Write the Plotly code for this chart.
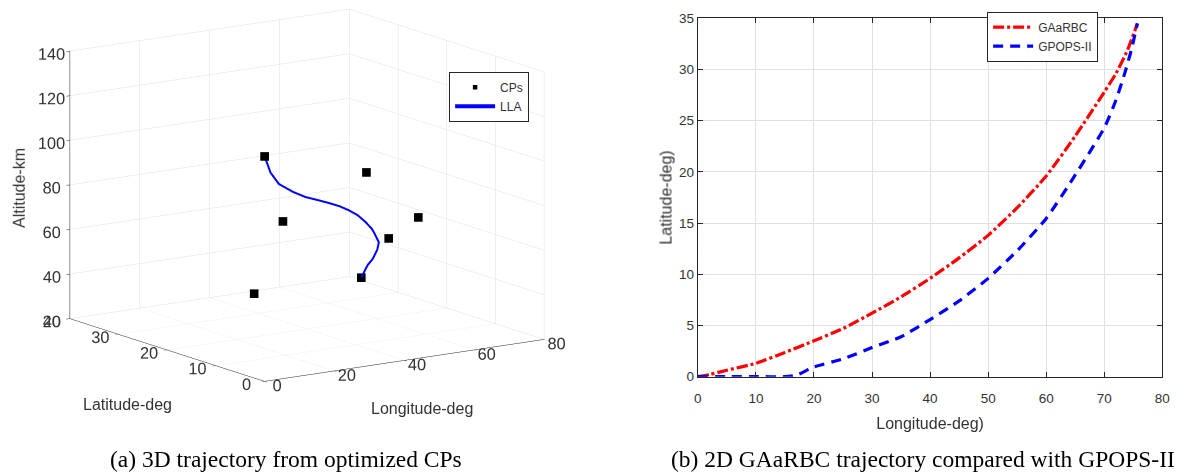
import plotly.graph_objects as go

# GAaRBC optimized trajectory (longitude / latitude, deg)
gaarbc_lon = [0, 2, 5, 10, 15, 20, 25, 30, 35, 40, 45, 50, 55, 60, 65, 70, 72, 74, 75.7]
gaarbc_lat = [0, 0.2, 0.63, 1.3, 2.37, 3.5, 4.7, 6.2, 7.8, 9.6, 11.6, 13.8, 16.5, 19.6, 23.5, 27.8, 29.6, 31.9, 34.5]
# altitude profile of the same trajectory (km)
lla_alt = [121, 113, 106.9, 101.7, 97.5, 94.2, 90.8, 87.2, 83, 78.4, 72.8, 66.8, 60.1, 54.5, 47.4, 39.9, 36.8, 32.5, 24.5]

# GPOPS-II reference trajectory
gpops_lon = [0, 5, 10, 15, 17, 20, 25, 30, 35, 40, 45, 50, 55, 60, 65, 70, 72, 73.5, 74.7, 75.7]
gpops_lat = [0, 0, 0, 0, 0.15, 0.95, 1.73, 2.84, 3.9, 5.58, 7.4, 9.6, 12.3, 15.45, 19.7, 24.3, 27.0, 29.6, 32.0, 34.5]

# optimized control points (lon, lat, alt)
cp_lon = [0, 15, 20, 45, 60, 55, 75.7]
cp_lat = [0, 7, 16.5, 11.4, 11.5, 14, 34.5]
cp_alt = [121, 83.4, 43.1, 95.2, 71.4, 61.4, 24.5]

FONT = "Liberation Sans"
TXT = "#333333"
GRID = "#e0e0e0"
AX = "#262626"

fig = go.Figure()

fig.add_trace(go.Scatter3d(
    x=cp_lon, y=cp_lat, z=cp_alt, mode="markers", name="CPs",
    marker=dict(symbol="square", size=4.5, color="black"),
    legend="legend", scene="scene"))
fig.add_trace(go.Scatter3d(
    x=gaarbc_lon, y=gaarbc_lat, z=lla_alt, mode="lines", name="LLA",
    line=dict(color="#0000ff", width=4),
    legend="legend", scene="scene"))

fig.add_trace(go.Scatter(
    x=gaarbc_lon, y=gaarbc_lat, mode="lines", name="GAaRBC",
    line=dict(color="#ff0000", width=3.2, dash="11px,3px,3px,3px", shape="spline", smoothing=0.5),
    legend="legend2", xaxis="x", yaxis="y"))
fig.add_trace(go.Scatter(
    x=gpops_lon, y=gpops_lat, mode="lines", name="GPOPS-II",
    line=dict(color="#0000ff", width=3.2, dash="10px,7px", shape="spline", smoothing=0.5),
    legend="legend2", xaxis="x", yaxis="y"))

ax3d = dict(showbackground=False, gridcolor=GRID, gridwidth=1, showline=True,
            linecolor=AX, linewidth=1, ticks="outside", tickcolor=AX, ticklen=4,
            zeroline=False, showspikes=False, title=dict(text=""), tickangle=0,
            tickfont=dict(family=FONT, size=14, color=TXT))

s = 1.472   # box scale in the orthographic view
dz = -0.186  # lowers the look-at point so the box sits higher in the panel
ex, ey, ez = -0.6826 * 1.9, -1.0 * 1.9, 0.273 * 1.9
fig.update_layout(
    width=1188, height=475, margin=dict(l=0, r=0, t=0, b=0),
    paper_bgcolor="white", plot_bgcolor="white", hovermode=False,
    scene=dict(
        domain=dict(x=[0, 0.515], y=[0.0, 1.0]),
        xaxis=dict(ax3d, range=[0, 80], dtick=20),
        yaxis=dict(ax3d, range=[0, 40], dtick=10),
        zaxis=dict(ax3d, range=[20, 140], dtick=20),
        aspectmode="manual", aspectratio=dict(x=1.0 * s, y=1.02 * s, z=0.81 * s),
        camera=dict(eye=dict(x=ex, y=ey, z=ez + dz),
                    center=dict(x=0, y=0, z=dz),
                    up=dict(x=0, y=0, z=1),
                    projection=dict(type="orthographic")),
    ),
    xaxis=dict(domain=[0.590, 0.985], range=[0, 80], dtick=10,
               showgrid=True, gridcolor=GRID, zeroline=False,
               showline=True, linecolor=AX, linewidth=1, mirror="allticks",
               ticks="inside", ticklen=5, tickcolor=AX, ticklabelstandoff=9,
               tickfont=dict(family=FONT, size=13.5, color=TXT),
               title=dict(text="Longitude-deg)", font=dict(family=FONT, size=16, color=TXT), standoff=12)),
    yaxis=dict(domain=[0.1964, 0.9754], range=[0, 35], dtick=5,
               showgrid=True, gridcolor=GRID, zeroline=False,
               showline=True, linecolor=AX, linewidth=1, mirror="allticks",
               ticks="inside", ticklen=5, tickcolor=AX, ticklabelstandoff=0,
               tickfont=dict(family=FONT, size=13.5, color=TXT),
               title=dict(text="Latitude-deg)", font=dict(family=FONT, size=16, color=TXT), standoff=2)),
    legend=dict(x=0.3785, y=0.859, xanchor="left", yanchor="top", itemwidth=40,
                bgcolor="white", bordercolor=AX, borderwidth=1,
                font=dict(family=FONT, size=12, color=TXT), tracegroupgap=0),
    legend2=dict(x=0.836, y=0.99, xanchor="left", yanchor="top", itemwidth=40,
                 bgcolor="white", bordercolor=AX, borderwidth=1,
                 font=dict(family=FONT, size=12, color=TXT), tracegroupgap=0),
    annotations=[
        # 3D axis titles
        dict(text="Latitude-deg", x=125 / 1188, y=1 - 410 / 475, xref="paper", yref="paper",
             showarrow=False, xanchor="center", yanchor="middle",
             font=dict(family=FONT, size=16, color=TXT)),
        dict(text="Longitude-deg", x=422 / 1188, y=1 - 415 / 475, xref="paper", yref="paper",
             showarrow=False, xanchor="center", yanchor="middle",
             font=dict(family=FONT, size=16, color=TXT)),
        dict(text="Altitude-km", x=15 / 1188, y=1 - 187 / 475, xref="paper", yref="paper",
             showarrow=False, xanchor="center", yanchor="middle", textangle=-90,
             font=dict(family=FONT, size=16, color=TXT)),
        # panel captions
        dict(text="(a) 3D trajectory from optimized CPs", x=284.5 / 1188, y=1 - 467 / 475,
             xref="paper", yref="paper", showarrow=False, xanchor="center", yanchor="middle",
             font=dict(family="Liberation Serif", size=23.5, color="black")),
        dict(text="(b) 2D GAaRBC trajectory compared with GPOPS-II", x=928 / 1188, y=1 - 467 / 475,
             xref="paper", yref="paper", showarrow=False, xanchor="center", yanchor="middle",
             font=dict(family="Liberation Serif", size=23.5, color="black")),
    ],
)

fig.write_html("out.html")
